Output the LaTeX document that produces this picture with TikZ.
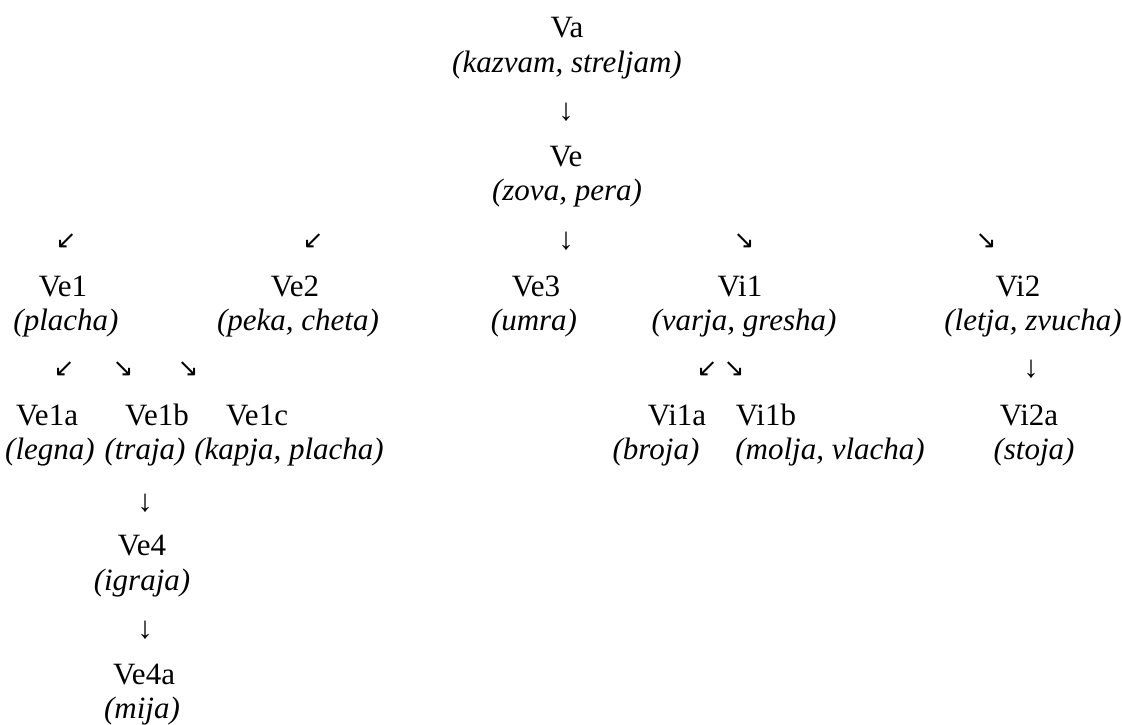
\documentclass[tikz,border=0pt]{standalone}
\usepackage{fontspec}
\setmainfont{Liberation Serif}
\newfontfamily\arrowfont{DejaVu Sans}
\begin{document}
\begin{tikzpicture}[x=1pt,y=-1pt,
  lbl/.style={anchor=base, inner sep=0pt, font=\fontsize{31}{37}\selectfont},
  gls/.style={anchor=base, inner sep=0pt, font=\fontsize{31}{37}\selectfont\itshape},
  down/.style={anchor=center, inner sep=0pt, font=\fontsize{31}{37}\selectfont},
  diag/.style={anchor=center, inner sep=0pt, font=\arrowfont\fontsize{25}{30}\selectfont}]
\useasboundingbox (0,0) rectangle (1122,724);

% top of the tree
\node[lbl]  (va)  at (567,37)   {Va};
\node[gls]  (vag) at (567,72)   {(kazvam, streljam)};
\node[down] (a0)  at (566,112)  {↓};
\node[lbl]  (ve)  at (566,166.5){Ve};
\node[gls]  (veg) at (567,200.5){(zova, pera)};

% first split
\node[diag] (a1) at (66,241.5)  {↙};
\node[diag] (a2) at (313,241.5) {↙};
\node[down] (a3) at (566,241.5) {↓};
\node[diag] (a4) at (744,241.5) {↘};
\node[diag] (a5) at (986,241.5) {↘};

\node[lbl] (ve1)  at (63,296)  {Ve1};
\node[gls] (ve1g) at (66,330)  {(placha)};
\node[lbl] (ve2)  at (295,296) {Ve2};
\node[gls] (ve2g) at (298,330) {(peka, cheta)};
\node[lbl] (ve3)  at (536,296) {Ve3};
\node[gls] (ve3g) at (534,330) {(umra)};
\node[lbl] (vi1)  at (740,296) {Vi1};
\node[gls] (vi1g) at (744,330) {(varja, gresha)};
\node[lbl] (vi2)  at (1018,296){Vi2};
\node[gls] (vi2g) at (1033,330){(letja, zvucha)};

% second split
\node[diag] (b1) at (64,369)   {↙};
\node[diag] (b2) at (123,369)  {↘};
\node[diag] (b3) at (188,369)  {↘};
\node[diag] (b4) at (707,369)  {↙};
\node[diag] (b5) at (734,369)  {↘};
\node[down] (b6) at (1031,369) {↓};

\node[lbl] (ve1a)  at (47,425.5)  {Ve1a};
\node[gls] (ve1ag) at (50,459.5)  {(legna)};
\node[lbl] (ve1b)  at (157,425.5) {Ve1b};
\node[gls] (ve1bg) at (145,459.5) {(traja)};
\node[lbl] (ve1c)  at (257,425.5) {Ve1c};
\node[gls] (ve1cg) at (289,459.5) {(kapja, placha)};
\node[lbl] (vi1a)  at (677,425.5) {Vi1a};
\node[gls] (vi1ag) at (656,459.5) {(broja)};
\node[lbl] (vi1b)  at (766,425.5) {Vi1b};
\node[gls] (vi1bg) at (830,459.5) {(molja, vlacha)};
\node[lbl] (vi2a)  at (1029,425.5){Vi2a};
\node[gls] (vi2ag) at (1034,459.5){(stoja)};

% branch below Ve1b
\node[down] (c1)   at (145,503)  {↓};
\node[lbl]  (ve4)  at (142,555)  {Ve4};
\node[gls]  (ve4g) at (142,590)  {(igraja)};
\node[down] (c2)   at (145,630)  {↓};
\node[lbl]  (ve4a) at (144,684.5){Ve4a};
\node[gls]  (ve4ag)at (142,718)  {(mija)};
\end{tikzpicture}
\end{document}
